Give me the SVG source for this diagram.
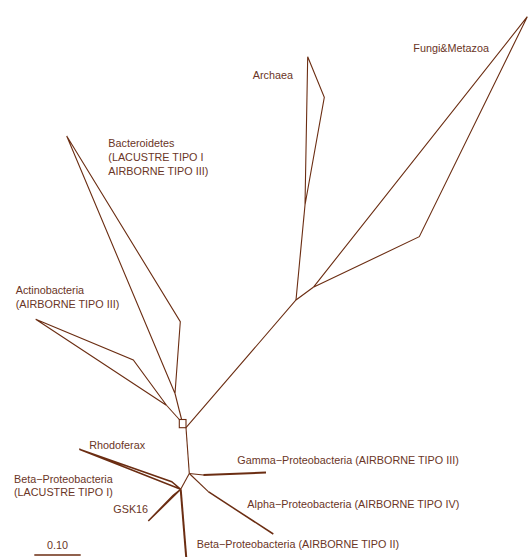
<svg xmlns="http://www.w3.org/2000/svg" width="528" height="557" viewBox="0 0 528 557">
<style>
.br{fill:none;stroke:#6B2D12;stroke-width:1.1;stroke-linejoin:miter;stroke-linecap:butt}
.thk{stroke-width:2}
.mid{stroke-width:1.5}
.lb{font-family:"Liberation Sans",Arial,Helvetica,sans-serif;font-size:10.8px;fill:#6A3526}
</style>
<rect width="528" height="557" fill="#ffffff"/>
<g id="connectors">
<path class="br" d="M186,427.7 L296,300 L313.3,287.3"/>
<path class="br" d="M296,300 L305,205"/>
<path class="br" d="M186,427.7 L189.3,473.5"/>
<path class="br" d="M181.6,419.5 L175,393.5"/>
<path class="br" d="M179.3,419.5 L166.7,405.5"/>
<path class="br" d="M189.3,473.5 L203.3,475"/>
<path class="br" d="M189.3,473.5 L208.3,491.7"/>
<path class="br" d="M189.3,473.5 L180.7,489.3"/>
</g>
<g id="root">
<rect class="br" x="179.3" y="419.5" width="6.7" height="8.2"/>
</g>
<g id="fungi-metazoa">
<path class="br" d="M313.3,287.3 L527.3,16.7 L419.3,236.7 Z"/>
<text class="lb" x="413.3" y="51.7">Fungi&amp;Metazoa</text>
</g>
<g id="archaea">
<path class="br" d="M305,205 L307.7,56.7 L324.3,97.3 Z"/>
<text class="lb" x="252.7" y="79.3">Archaea</text>
</g>
<g id="bacteroidetes">
<path class="br" d="M175,393.5 L66.7,136 L180.3,321.7 Z"/>
<text class="lb" x="108.3" y="147"><tspan x="108.3">Bacteroidetes</tspan><tspan x="108.3" dy="13.8">(LACUSTRE TIPO I</tspan><tspan x="108.3" dy="13.8">AIRBORNE TIPO III)</tspan></text>
</g>
<g id="actinobacteria">
<path class="br" d="M166.7,405.5 L35.7,319.3 L133.3,360 Z"/>
<text class="lb" x="15.7" y="294"><tspan x="15.7">Actinobacteria</tspan><tspan x="15.7" dy="14">(AIRBORNE TIPO III)</tspan></text>
</g>
<g id="gamma">
<path class="br thk" d="M203.3,475 L266,472.5"/>
<text class="lb" x="237.3" y="464">Gamma−Proteobacteria (AIRBORNE TIPO III)</text>
</g>
<g id="alpha">
<path class="br mid" d="M208.3,491.7 L273.3,534"/>
<text class="lb" x="247.3" y="508.3">Alpha−Proteobacteria (AIRBORNE TIPO IV)</text>
</g>
<g id="beta-airborne">
<path class="br thk" d="M180.7,489.3 L186.2,557"/>
<text class="lb" x="196.7" y="548.3">Beta−Proteobacteria (AIRBORNE TIPO II)</text>
</g>
<g id="rhodoferax">
<path class="br mid" d="M180.7,489.3 L79.3,449.3 L171.7,481.7 Z"/>
<text class="lb" x="89.3" y="449.3">Rhodoferax</text>
</g>
<g id="beta-lacustre">
<text class="lb" x="14" y="482.7"><tspan x="14">Beta−Proteobacteria</tspan><tspan x="14" dy="13.5">(LACUSTRE TIPO I)</tspan></text>
</g>
<g id="gsk16">
<path class="br mid" d="M180.7,489.3 L148.3,521 L173,495.5 Z"/>
<text class="lb" x="113.3" y="513.3">GSK16</text>
</g>
<g id="scale">
<line class="br mid" x1="34.3" y1="555" x2="80.7" y2="555"/>
<text class="lb" x="57.5" y="549.3" text-anchor="middle">0.10</text>
</g>
</svg>
